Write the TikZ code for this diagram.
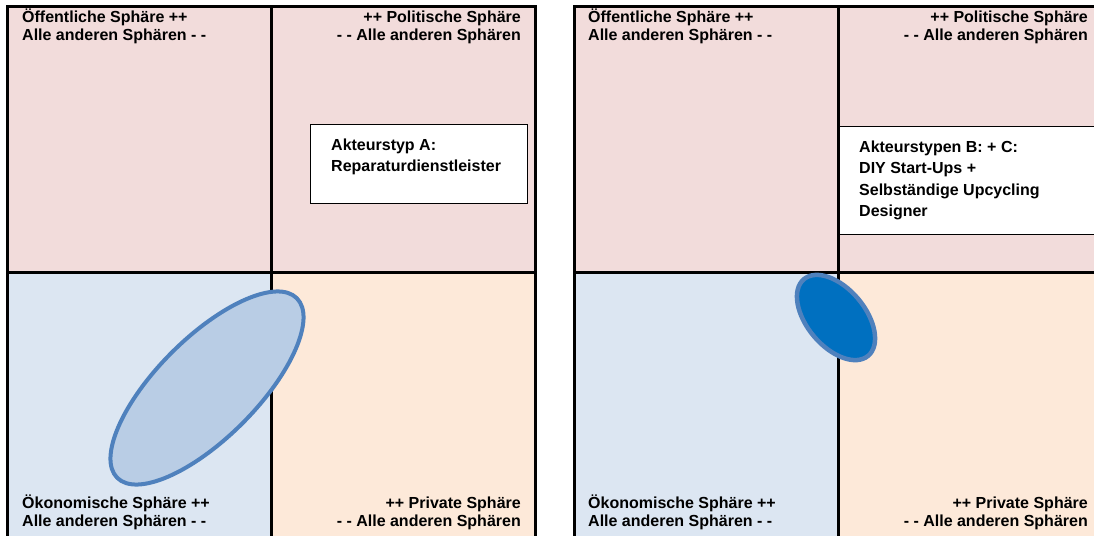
\documentclass[tikz,border=0pt]{standalone}
\usepackage{fontspec}
\setmainfont{Liberation Sans}
\definecolor{pinkq}{HTML}{F2DCDB}
\definecolor{blueq}{HTML}{DCE6F2}
\definecolor{peachq}{HTML}{FDE9D9}
\definecolor{ellfill}{HTML}{B9CDE5}
\definecolor{ellline}{HTML}{4F81BD}
\definecolor{darkblue}{HTML}{0070C0}
\begin{document}
\begin{tikzpicture}[x=1pt,y=-1pt,
  lbl/.style={font=\bfseries\fontsize{16}{18}\selectfont, inner sep=0pt},
  gridline/.style={line width=3pt, draw=black},
  akbox/.style={draw=black, line width=1pt, fill=white},
  ellA/.style={draw=ellline, line width=4pt, fill=ellfill},
  ellB/.style={draw=ellline, line width=4.5pt, fill=darkblue}]
\useasboundingbox (0,0) rectangle (1094,535);
\fill[white] (0,0) rectangle (1094,535);
\begin{scope}
\clip (0,0) rectangle (1094,535);
% ---------- left panel ----------
\fill[pinkq] (7,7) rectangle (535,272);
\fill[blueq] (7,272) rectangle (271,545);
\fill[peachq] (271,272) rectangle (535,545);
\draw[gridline] (7,545) -- (7,7) -- (535,7) -- (535,545);
\draw[gridline] (271,7) -- (271,545);
\draw[gridline] (7,272) -- (535,272);
\draw[akbox] (310,124) rectangle (527,203);
\draw[ellA, rotate around={45:(207,388)}] (207,388) ellipse [x radius=127pt, y radius=50pt];
% ---------- right panel ----------
\fill[pinkq] (574,7) rectangle (1110,272);
\fill[blueq] (574,272) rectangle (838,545);
\fill[peachq] (838,272) rectangle (1110,545);
\draw[gridline] (574,545) -- (574,7) -- (1110,7);
\draw[gridline] (838,7) -- (838,545);
\draw[gridline] (574,272) -- (1110,272);
\draw[akbox] (838,126) rectangle (1110,234);
\draw[gridline] (838,120) -- (838,240);
\draw[ellB, rotate around={-50:(836,317.5)}] (836,317.5) ellipse [x radius=50pt, y radius=29pt];
\end{scope}
% ---------- labels left ----------
\node[lbl, anchor=base west] (ltl1) at (22,23) {Öffentliche Sphäre ++};
\node[lbl, anchor=base west] (ltl2) at (22,41) {Alle anderen Sphären - -};
\node[lbl, anchor=base east] (ltr1) at (521,23) {++ Politische Sphäre};
\node[lbl, anchor=base east] (ltr2) at (521,41) {- - Alle anderen Sphären};
\node[lbl, anchor=base west] (lbl1) at (22,508) {Ökonomische Sphäre ++};
\node[lbl, anchor=base west] (lbl2) at (22,526) {Alle anderen Sphären - -};
\node[lbl, anchor=base east] (lbr1) at (521,508) {++ Private Sphäre};
\node[lbl, anchor=base east] (lbr2) at (521,526) {- - Alle anderen Sphären};
\node[lbl, anchor=base west] (la1) at (331,150) {Akteurstyp A:};
\node[lbl, anchor=base west] (la2) at (331,171) {Reparaturdienstleister};
% ---------- labels right ----------
\node[lbl, anchor=base west] (rtl1) at (588,23) {Öffentliche Sphäre ++};
\node[lbl, anchor=base west] (rtl2) at (588,41) {Alle anderen Sphären - -};
\node[lbl, anchor=base east] (rtr1) at (1088,23) {++ Politische Sphäre};
\node[lbl, anchor=base east] (rtr2) at (1088,41) {- - Alle anderen Sphären};
\node[lbl, anchor=base west] (rbl1) at (588,508) {Ökonomische Sphäre ++};
\node[lbl, anchor=base west] (rbl2) at (588,526) {Alle anderen Sphären - -};
\node[lbl, anchor=base east] (rbr1) at (1088,508) {++ Private Sphäre};
\node[lbl, anchor=base east] (rbr2) at (1088,526) {- - Alle anderen Sphären};
\node[lbl, anchor=base west] (rb1) at (859,152) {Akteurstypen B: + C:};
\node[lbl, anchor=base west] (rb2) at (859,173.5) {DIY Start-Ups +};
\node[lbl, anchor=base west] (rb3) at (859,195) {Selbständige Upcycling};
\node[lbl, anchor=base west] (rb4) at (859,216.5) {Designer};
\end{tikzpicture}
\end{document}
